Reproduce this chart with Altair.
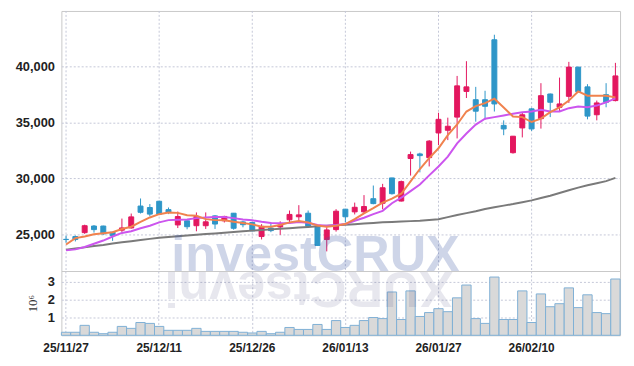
import altair as alt
import pandas as pd

dates = ["25/11/27", "25/11/28", "25/12/01", "25/12/02", "25/12/03", "25/12/04", "25/12/05",
         "25/12/08", "25/12/09", "25/12/10", "25/12/11", "25/12/12", "25/12/15", "25/12/16",
         "25/12/17", "25/12/18", "25/12/19", "25/12/22", "25/12/23", "25/12/24", "25/12/26",
         "25/12/29", "25/12/30", "26/01/02", "26/01/05", "26/01/06", "26/01/07", "26/01/08",
         "26/01/09", "26/01/12", "26/01/13", "26/01/14", "26/01/15", "26/01/16", "26/01/19",
         "26/01/20", "26/01/21", "26/01/22", "26/01/23", "26/01/26", "26/01/27", "26/01/28",
         "26/01/29", "26/01/30", "26/02/02", "26/02/03", "26/02/04", "26/02/05", "26/02/06",
         "26/02/09", "26/02/10", "26/02/11", "26/02/12", "26/02/13", "26/02/19", "26/02/20",
         "26/02/23", "26/02/24", "26/02/25", "26/02/26"]

opens = [24540, 24790, 25140, 25730, 25730, 25180, 25360, 25560, 27520, 27390,
         27950, 27200, 25830, 26200, 25760, 25760, 26640, 26200, 26880, 26100,
         26050, 24790, 25550, 25650, 26290, 26560, 26880, 25700, 24520, 25410,
         27240, 27000, 27000, 28180, 27770, 30040, 27970, 31780, 32190, 31860,
         34070, 34310, 35490, 37790, 37050, 37050, 42420, 34750, 32300, 34520,
         36230, 35350, 37560, 36370, 37350, 39970, 38200, 35700, 37500, 36970]
highs = [24880, 24880, 25850, 25820, 25760, 25200, 26400, 26850, 28200, 27700,
         28000, 27390, 27030, 26250, 26950, 26950, 26700, 26650, 26900, 26200,
         26100, 25900, 26060, 26150, 27120, 27600, 27120, 25750, 25620, 27240,
         27250, 27830, 28500, 29360, 29510, 30050, 29800, 32400, 32300, 33430,
         35880, 35440, 39180, 40500, 38200, 37850, 42870, 35200, 33800, 35930,
         36320, 38530, 37600, 39030, 40440, 40000, 38440, 36970, 38530, 40350]
lows = [24230, 24350, 25030, 25140, 24950, 24400, 25200, 25500, 26850, 26600,
        26750, 26800, 25550, 25440, 25260, 25470, 25470, 26050, 25400, 25620,
        25250, 24530, 25180, 24940, 26060, 26110, 25650, 23950, 23460, 25230,
        26060, 26770, 26860, 27680, 27240, 28550, 27930, 30250, 30540, 31070,
        32990, 33430, 33580, 37200, 35080, 35260, 35990, 33870, 32220, 33670,
        34250, 34460, 35490, 36020, 36760, 37700, 35290, 35200, 36370, 36900]
closes = [24520, 24520, 25760, 25410, 25030, 24880, 25560, 26550, 26960, 26800,
          26800, 26980, 26580, 25670, 26590, 26110, 25910, 26590, 25530, 25850,
          25300, 25700, 25320, 25820, 26770, 26730, 25710, 23990, 25380, 27060,
          26560, 27410, 27480, 27740, 29160, 28630, 29710, 32130, 32040, 33340,
          35290, 34670, 38290, 38200, 36020, 36460, 36670, 34430, 33780, 35700,
          34430, 37410, 36820, 36670, 39970, 37760, 35580, 36760, 36820, 39180]
ma5 = [24080, 24645, 24790, 25000, 25090, 25180, 25470, 25670, 26110, 26500,
       26795, 26940, 26910, 26700, 26645, 26350, 26260, 26240, 26110, 26000,
       25880, 25670, 25670, 25820, 26060, 26175, 26060, 25770, 25670, 25760,
       25910, 26350, 26860, 27330, 27830, 28180, 28625, 29740, 30840, 31810,
       32695, 33870, 34830, 35990, 36480, 36745, 37140, 36350, 35550, 35490,
       35050, 35350, 35930, 36370, 36970, 37790, 37410, 37410, 37410, 37260]
ma20 = [23550, 23640, 23850, 24140, 24430, 24790, 25115, 25265, 25530, 25760,
        26060, 26260, 26290, 26320, 26440, 26500, 26530, 26530, 26440, 26320,
        26240, 26110, 26000, 25970, 26000, 26090, 26030, 25820, 25760, 25820,
        25910, 26200, 26470, 26795, 27090, 27770, 28270, 28855, 29450, 30270,
        31070, 31950, 33136, 34020, 34817, 35350, 35490, 35640, 35790, 35930,
        35990, 36140, 35990, 35990, 36290, 36436, 36374, 36524, 36816, 37170]
ma120 = [23610, 23720, 23820, 23940, 24040, 24160, 24270, 24370, 24480, 24580,
         24690, 24750, 24810, 24880, 24950, 25010, 25070, 25130, 25190, 25260,
         25320, 25370, 25430, 25490, 25540, 25600, 25650, 25710, 25760, 25810,
         25850, 25900, 25950, 26010, 26060, 26100, 26130, 26170, 26200, 26270,
         26340, 26530, 26720, 26890, 27060, 27250, 27410, 27560, 27700, 27860,
         28030, 28240, 28450, 28690, 28940, 29170, 29380, 29560, 29750, 30040]
volume_m = [0.17, 0.17, 0.56, 0.17, 0.09, 0.17, 0.50, 0.39, 0.72, 0.67,
            0.50, 0.28, 0.28, 0.28, 0.39, 0.22, 0.22, 0.22, 0.22, 0.17,
            0.13, 0.22, 0.09, 0.17, 0.44, 0.33, 0.33, 0.61, 0.33, 0.83,
            0.44, 0.56, 0.83, 1.00, 0.94, 2.44, 0.89, 2.50, 1.06, 1.28,
            1.50, 1.33, 2.11, 2.83, 0.94, 0.67, 3.28, 0.89, 0.89, 2.50,
            0.72, 2.33, 1.61, 1.78, 2.67, 1.56, 2.28, 1.28, 1.22, 3.17]
label_dates = ["25/11/27", "25/12/11", "25/12/26", "26/01/13", "26/01/27", "26/02/10"]
price_ticks = [25000, 30000, 35000, 40000]
volume_ticks = [1, 2, 3]

df = pd.DataFrame({"date": dates, "open": opens, "high": highs, "low": lows, "close": closes,
                   "ma5": ma5, "ma20": ma20, "ma120": ma120, "vol": volume_m})
df["dir"] = ["up" if c >= o else "down" for o, c in zip(opens, closes)]
grid_df = pd.DataFrame({"date": label_dates})

FONT = "Liberation Sans"
GRID = "#c4c7d8"
RED = "#e3175f"
BLUE = "#2e96c8"

xscale = alt.Scale(domain=dates, paddingInner=0, paddingOuter=0)
x_top = alt.X("date:O", scale=xscale, axis=None)
yscale = alt.Scale(domain=[21700, 45000], nice=False, zero=False)
yaxis = alt.Axis(values=price_ticks, labelExpr="format(datum.value, ',d')", ticks=False,
                 domain=False, grid=True, gridColor=GRID, gridDash=[2, 2], labelPadding=7,
                 title=None, labelFont=FONT, labelFontSize=13, labelFontWeight="bold",
                 labelColor="#222")
color = alt.Color("dir:N", scale=alt.Scale(domain=["up", "down"], range=[RED, BLUE]), legend=None)
stroke = alt.Stroke("dir:N", scale=alt.Scale(domain=["up", "down"], range=[RED, BLUE]), legend=None)

base = alt.Chart(df)
vgrid = alt.Chart(grid_df).mark_rule(color=GRID, strokeWidth=1, strokeDash=[2, 2]).encode(
    x=x_top)
wick = base.mark_rule(strokeWidth=1).encode(
    x=x_top, y=alt.Y("low:Q", scale=yscale, axis=yaxis), y2="high:Q", color=color)
body = base.mark_bar(size=5, strokeWidth=1).encode(
    x=x_top, y=alt.Y("open:Q", scale=yscale, axis=yaxis), y2="close:Q", color=color, stroke=stroke)
line_long = base.mark_line(color="#7a7a7a", strokeWidth=2).encode(
    x=x_top, y=alt.Y("ma120:Q", scale=yscale, axis=yaxis))
line_20 = base.mark_line(color="#cc55ee", strokeWidth=2).encode(
    x=x_top, y=alt.Y("ma20:Q", scale=yscale, axis=yaxis))
line_5 = base.mark_line(color="#f0824e", strokeWidth=2).encode(
    x=x_top, y=alt.Y("ma5:Q", scale=yscale, axis=yaxis))
wm = alt.Chart(pd.DataFrame({"t": ["investCRUX"]})).mark_text(
    align="left", baseline="alphabetic", fontSize=51, fontWeight="bold", font=FONT,
    color="#3f5aa8", opacity=0.25).encode(text="t:N", x=alt.value(111), y=alt.value(263))

price = alt.layer(vgrid, wick, body, line_long, line_20, line_5, wm).properties(
    width=565, height=263)

x_bot = alt.X("date:O", scale=xscale,
              axis=alt.Axis(values=label_dates, labelAngle=0, ticks=False, domain=False,
                            grid=True, gridColor=GRID, gridDash=[2, 2], bandPosition=0.5,
                            labelPadding=7, title=None, labelFont=FONT, labelFontSize=12,
                            labelFontWeight="bold", labelColor="#222"))
vbars = alt.Chart(df).mark_bar(fill="#d9d9d9", stroke="#7fb0d6", strokeWidth=1).encode(
    x=x_bot,
    y=alt.Y("vol:Q", scale=alt.Scale(domain=[0, 3.62], nice=False),
            axis=alt.Axis(values=volume_ticks, ticks=False, domain=False, grid=True,
                          gridColor=GRID, gridDash=[2, 2], labelPadding=7,
                          labelFont=FONT, labelFontSize=13, labelFontWeight="bold",
                          labelColor="#222", title="10⁶", titleFont="Liberation Serif",
                          titleFontWeight="normal", titleFontSize=13, titleColor="#333",
                          titlePadding=8)))
refl = alt.Chart(pd.DataFrame({"t": ["XURCtsevni"]})).mark_text(
    align="left", baseline="alphabetic", angle=180, fontSize=51, fontWeight="bold", font=FONT,
    color="#3f3f7a", opacity=0.12).encode(text="t:N", x=alt.value(396), y=alt.value(1))
volume = alt.layer(vbars, refl).properties(width=565, height=65)

chart = alt.vconcat(price, volume, spacing=0, bounds="flush").properties(
    padding={"left": 6, "top": 0, "right": 5, "bottom": 5}, background="white"
).configure_view(stroke="#c8c8c8")

chart.save("out.html", embed_options={"renderer": "svg", "actions": False})
